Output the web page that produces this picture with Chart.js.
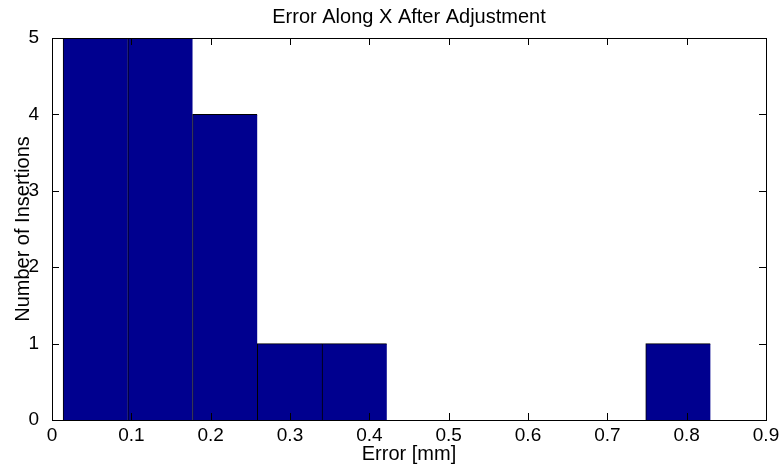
<!DOCTYPE html>
<html>
<head>
<meta charset="utf-8">
<title>Error Along X After Adjustment</title>
<script src="https://cdn.jsdelivr.net/npm/chart.js@4.4.1/dist/chart.umd.min.js"></script>
<style>
  body { margin: 0; background: #fff; }
  #wrap { width: 784px; height: 471px; }
</style>
</head>
<body>
<div id="wrap"><canvas id="myChart" width="784" height="471"></canvas></div>
<script>
// histogram bins (centres, mm) and counts
var binCenters = [0.0548, 0.1364, 0.2180, 0.2996, 0.3812, 0.4628, 0.5444, 0.6260, 0.7076, 0.7892];
var counts = [5, 5, 4, 1, 1, 0, 0, 0, 0, 1];
var xTicks = [0, 0.1, 0.2, 0.3, 0.4, 0.5, 0.6, 0.7, 0.8, 0.9];
var yTicks = [0, 1, 2, 3, 4, 5];

var fontName = "'Liberation Sans', Arial, sans-serif";

// box around the axes with inward ticks on every side
var boxTicks = {
  id: 'boxTicks',
  afterDatasetsDraw: function(chart) {
    var c = chart.ctx, a = chart.chartArea;
    var xs = chart.scales.x, ys = chart.scales.y;
    var len = 7;
    c.save();
    c.strokeStyle = '#000';
    c.lineWidth = 1;
    c.beginPath();
    xTicks.forEach(function(v) {
      var px = Math.round(xs.getPixelForValue(v)) + 0.5;
      c.moveTo(px, a.bottom); c.lineTo(px, a.bottom - len);
      c.moveTo(px, a.top); c.lineTo(px, a.top + len);
    });
    yTicks.forEach(function(v) {
      var py = Math.round(ys.getPixelForValue(v)) + 0.5;
      c.moveTo(a.left, py); c.lineTo(a.left + len, py);
      c.moveTo(a.right, py); c.lineTo(a.right - len, py);
    });
    c.stroke();
    c.strokeRect(Math.round(a.left) + 0.5, Math.round(a.top) + 0.5,
                 Math.round(a.right - a.left), Math.round(a.bottom - a.top));
    c.restore();
  }
};

var ctx = document.getElementById('myChart').getContext('2d');
var myChart = new Chart(ctx, {
  type: 'bar',
  data: {
    datasets: [{
      data: binCenters.map(function(x, i) { return {x: x, y: counts[i]}; }),
      backgroundColor: '#00008f',
      borderColor: '#000',
      borderWidth: {left: 1, top: 1, right: 0, bottom: 0},
      borderSkipped: false,
      barPercentage: 1,
      categoryPercentage: 1
    }]
  },
  options: {
    responsive: false,
    animation: false,
    layout: { padding: { left: 0, right: 18, top: 0, bottom: 0 } },
    plugins: {
      legend: { display: false },
      tooltip: { enabled: false },
      title: {
        display: true,
        text: 'Error Along X After Adjustment',
        fullSize: false,
        color: '#000',
        font: { family: fontName, size: 20, weight: 'normal' },
        padding: { top: 5, bottom: 9 }
      }
    },
    scales: {
      x: {
        type: 'linear',
        offset: false,
        min: 0,
        max: 0.9,
        afterFit: function(s) { s.height = 51; },
        afterBuildTicks: function(s) { s.ticks = xTicks.map(function(v) { return {value: v}; }); },
        grid: { display: false, offset: false },
        border: { display: false },
        ticks: {
          color: '#000',
          padding: -4,
          maxRotation: 0,
          font: { family: fontName, size: 19 },
          callback: function(v) { return String(v); }
        },
        title: {
          display: true,
          text: 'Error [mm]',
          color: '#000',
          font: { family: fontName, size: 20 },
          padding: { top: 0, bottom: 5 }
        }
      },
      y: {
        min: 0,
        max: 5,
        afterFit: function(s) { s.width = 52; },
        afterBuildTicks: function(s) { s.ticks = yTicks.map(function(v) { return {value: v}; }); },
        grid: { display: false },
        border: { display: false },
        ticks: {
          color: '#000',
          padding: 5,
          font: { family: fontName, size: 19 }
        },
        title: {
          display: true,
          text: 'Number of Insertions',
          color: '#000',
          font: { family: fontName, size: 20 },
          padding: { top: 11, bottom: 0 }
        }
      }
    }
  },
  plugins: [boxTicks]
});
</script>
</body>
</html>
